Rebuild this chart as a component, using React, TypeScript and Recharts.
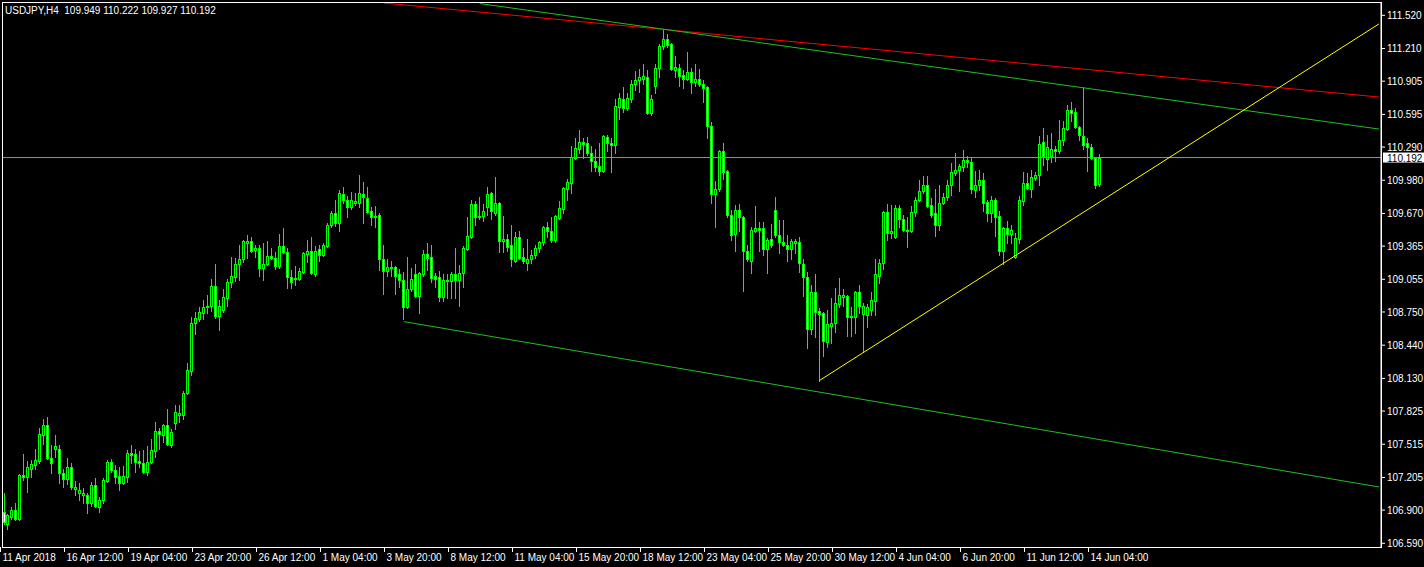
import { ComposedChart, Bar, XAxis, YAxis, ReferenceLine } from "recharts"

// USDJPY H4, bars from 11 Apr 2018 20:00 to 14 Jun 2018 12:00
const opens = [
  106.88, 106.77, 106.84, 106.90, 106.82, 107.23, 107.21, 107.28, 107.32, 107.36,
  107.60, 107.69, 107.39, 107.47, 107.47, 107.25, 107.19, 107.30, 107.10, 107.06,
  107.04, 107.04, 106.97, 107.13, 106.93, 106.99, 107.17, 107.35, 107.27, 107.22,
  107.15, 107.21, 107.43, 107.42, 107.36, 107.34, 107.26, 107.35, 107.45, 107.64,
  107.60, 107.69, 107.51, 107.71, 107.79, 107.79, 107.99, 108.20, 108.65, 108.68,
  108.74, 108.80, 108.81, 108.99, 108.71, 108.77, 108.88, 109.03, 109.08, 109.20,
  109.24, 109.39, 109.41, 109.33, 109.35, 109.16, 109.20, 109.27, 109.25, 109.18,
  109.37, 109.31, 109.08, 109.06, 109.06, 109.12, 109.29, 109.32, 109.10, 109.34,
  109.28, 109.37, 109.56, 109.67, 109.58, 109.85, 109.80, 109.73, 109.77, 109.77,
  109.85, 109.81, 109.69, 109.64, 109.66, 109.24, 109.13, 109.17, 109.17, 109.10,
  109.05, 108.80, 108.96, 109.10, 108.90, 109.10, 109.29, 109.26, 109.09, 109.08,
  108.89, 109.04, 109.04, 109.10, 109.05, 109.11, 109.34, 109.45, 109.76, 109.65,
  109.65, 109.73, 109.86, 109.67, 109.77, 109.41, 109.43, 109.38, 109.23, 109.45,
  109.26, 109.21, 109.24, 109.28, 109.35, 109.40, 109.54, 109.51, 109.42, 109.63,
  109.71, 109.90, 109.95, 110.19, 110.27, 110.34, 110.33, 110.23, 110.16, 110.11,
  110.07, 110.38, 110.33, 110.31, 110.66, 110.74, 110.65, 110.74, 110.88, 110.92,
  110.93, 110.94, 110.61, 110.86, 111.03, 111.23, 111.30, 111.25, 111.01, 111.03,
  110.96, 110.93, 110.99, 110.90, 110.93, 110.88, 110.85, 110.49, 109.85, 109.90,
  110.25, 110.07, 109.66, 109.48, 109.70, 109.64, 109.32, 109.23, 109.51, 109.53,
  109.53, 109.34, 109.43, 109.70, 109.47, 109.40, 109.38, 109.34, 109.39, 109.40,
  109.20, 109.08, 108.59, 108.94, 108.76, 108.74, 108.47, 108.62, 108.65, 108.82,
  108.89, 108.90, 108.71, 108.70, 108.94, 108.73, 108.72, 108.77, 108.85, 109.09,
  109.21, 109.68, 109.49, 109.45, 109.72, 109.62, 109.52, 109.51, 109.68, 109.80,
  109.88, 109.94, 109.75, 109.67, 109.56, 109.77, 109.82, 109.94, 110.05, 110.08,
  110.10, 110.17, 110.15, 109.89, 109.94, 109.98, 109.78, 109.67, 109.80, 109.65,
  109.32, 109.53, 109.48, 109.26, 109.43, 109.79, 109.95, 109.90, 110.00, 110.03,
  110.34, 110.18, 110.21, 110.27, 110.25, 110.36, 110.46, 110.64, 110.62, 110.48,
  110.39, 110.33, 110.29, 110.19, 109.949,
]

const highs = [
  107.06, 106.86, 106.93, 106.97, 107.24, 107.42, 107.36, 107.37, 107.47, 107.67,
  107.75, 107.77, 107.51, 107.60, 107.51, 107.28, 107.39, 107.34, 107.17, 107.15,
  107.11, 107.06, 107.16, 107.20, 107.02, 107.20, 107.37, 107.38, 107.32, 107.30,
  107.31, 107.46, 107.51, 107.47, 107.45, 107.46, 107.50, 107.56, 107.72, 107.67,
  107.70, 107.84, 107.66, 107.88, 107.88, 108.01, 108.27, 108.70, 108.75, 108.80,
  108.86, 108.91, 109.06, 109.20, 108.86, 108.96, 109.06, 109.26, 109.25, 109.38,
  109.42, 109.47, 109.45, 109.38, 109.38, 109.39, 109.41, 109.35, 109.31, 109.48,
  109.53, 109.35, 109.14, 109.18, 109.16, 109.31, 109.42, 109.45, 109.37, 109.38,
  109.39, 109.58, 109.69, 109.80, 109.89, 109.92, 109.83, 109.87, 109.86, 110.03,
  109.96, 109.92, 109.73, 109.74, 109.67, 109.38, 109.24, 109.23, 109.18, 109.15,
  109.12, 109.26, 109.16, 109.20, 109.12, 109.33, 109.39, 109.38, 109.11, 109.13,
  109.10, 109.10, 109.12, 109.35, 109.19, 109.37, 109.64, 109.80, 109.79, 109.82,
  109.76, 109.92, 109.87, 110.01, 109.78, 109.65, 109.48, 109.56, 109.50, 109.51,
  109.35, 109.43, 109.33, 109.38, 109.41, 109.55, 109.59, 109.64, 109.66, 109.79,
  109.92, 109.99, 110.30, 110.37, 110.45, 110.37, 110.38, 110.30, 110.27, 110.33,
  110.40, 110.40, 110.37, 110.74, 110.79, 110.85, 110.79, 110.92, 111.00, 111.02,
  111.07, 111.01, 110.78, 111.07, 111.25, 111.38, 111.35, 111.26, 111.14, 111.07,
  111.01, 111.18, 111.03, 111.07, 111.02, 110.92, 110.86, 110.52, 109.97, 110.26,
  110.33, 110.08, 109.70, 109.75, 109.76, 109.65, 109.38, 109.54, 109.74, 109.59,
  109.59, 109.44, 109.57, 109.82, 109.61, 109.61, 109.47, 109.43, 109.43, 109.45,
  109.24, 109.12, 109.00, 109.10, 108.79, 108.75, 108.77, 108.88, 108.97, 109.07,
  108.96, 108.91, 108.80, 108.95, 109.00, 108.83, 108.82, 108.94, 109.24, 109.24,
  109.69, 109.76, 109.75, 109.75, 109.75, 109.66, 109.64, 109.74, 109.82, 109.98,
  110.02, 110.02, 109.81, 109.90, 109.94, 109.86, 109.98, 110.14, 110.23, 110.13,
  110.26, 110.21, 110.19, 110.07, 110.08, 110.05, 109.80, 109.83, 109.81, 109.69,
  109.54, 109.60, 109.56, 109.49, 109.83, 110.06, 110.05, 110.08, 110.06, 110.39,
  110.47, 110.40, 110.42, 110.30, 110.54, 110.53, 110.68, 110.71, 110.65, 110.49,
  110.85, 110.37, 110.32, 110.20, 110.222,
]

const lows = [
  106.77, 106.72, 106.82, 106.81, 106.81, 107.18, 107.07, 107.21, 107.28, 107.34,
  107.52, 107.38, 107.25, 107.40, 107.15, 107.12, 107.14, 107.10, 107.04, 106.99,
  106.97, 106.87, 106.94, 106.93, 106.88, 106.97, 107.16, 107.26, 107.15, 107.09,
  107.14, 107.16, 107.34, 107.26, 107.30, 107.25, 107.23, 107.34, 107.40, 107.47,
  107.54, 107.51, 107.49, 107.66, 107.72, 107.75, 107.98, 108.16, 108.54, 108.67,
  108.68, 108.74, 108.76, 108.69, 108.58, 108.75, 108.81, 108.98, 109.04, 109.05,
  109.22, 109.25, 109.31, 109.26, 109.09, 109.05, 109.19, 109.24, 109.15, 109.16,
  109.30, 108.97, 108.97, 109.00, 109.05, 109.11, 109.22, 109.10, 109.09, 109.23,
  109.27, 109.36, 109.54, 109.55, 109.51, 109.77, 109.64, 109.71, 109.75, 109.73,
  109.58, 109.67, 109.56, 109.54, 109.14, 108.92, 109.09, 109.09, 108.92, 108.98,
  108.68, 108.79, 108.95, 108.89, 108.74, 109.09, 109.14, 109.03, 108.98, 108.85,
  108.85, 108.88, 108.88, 108.88, 108.81, 108.98, 109.33, 109.44, 109.56, 109.62,
  109.60, 109.66, 109.62, 109.66, 109.31, 109.31, 109.32, 109.18, 109.22, 109.24,
  109.21, 109.14, 109.21, 109.25, 109.31, 109.38, 109.45, 109.40, 109.40, 109.62,
  109.67, 109.80, 109.86, 110.18, 110.23, 110.19, 110.22, 110.07, 110.07, 110.03,
  110.06, 110.25, 110.06, 110.23, 110.55, 110.62, 110.64, 110.71, 110.82, 110.80,
  110.88, 110.60, 110.59, 110.79, 110.94, 111.21, 111.22, 111.01, 110.94, 110.86,
  110.84, 110.92, 110.79, 110.86, 110.86, 110.71, 110.37, 109.77, 109.54, 109.88,
  109.99, 109.64, 109.42, 109.32, 109.51, 108.95, 109.23, 109.11, 109.50, 109.32,
  109.28, 109.11, 109.36, 109.45, 109.30, 109.37, 109.23, 109.24, 109.30, 109.12,
  108.90, 108.41, 108.54, 108.52, 108.11, 108.34, 108.42, 108.46, 108.56, 108.80,
  108.81, 108.53, 108.53, 108.55, 108.74, 108.38, 108.61, 108.72, 108.72, 109.02,
  109.15, 109.42, 109.44, 109.44, 109.54, 109.51, 109.36, 109.50, 109.65, 109.79,
  109.86, 109.73, 109.64, 109.46, 109.52, 109.76, 109.80, 109.84, 110.03, 109.88,
  110.07, 110.10, 109.86, 109.82, 109.89, 109.69, 109.60, 109.59, 109.46, 109.28,
  109.20, 109.39, 109.39, 109.25, 109.39, 109.75, 109.90, 109.82, 109.98, 109.94,
  110.12, 110.08, 110.15, 110.16, 110.23, 110.31, 110.45, 110.53, 110.47, 110.36,
  110.27, 110.07, 110.18, 109.91, 109.927,
]

const closes = [
  106.79, 106.85, 106.90, 106.82, 107.23, 107.21, 107.30, 107.33, 107.37, 107.61,
  107.69, 107.39, 107.34, 107.50, 107.25, 107.19, 107.30, 107.12, 107.12, 107.09,
  107.06, 106.97, 107.13, 106.94, 106.99, 107.18, 107.35, 107.27, 107.21, 107.15,
  107.22, 107.43, 107.41, 107.35, 107.34, 107.26, 107.35, 107.46, 107.64, 107.61,
  107.69, 107.52, 107.63, 107.82, 107.81, 107.99, 108.21, 108.65, 108.69, 108.75,
  108.80, 108.81, 108.99, 108.71, 108.81, 108.89, 109.03, 109.09, 109.20, 109.24,
  109.41, 109.41, 109.32, 109.35, 109.16, 109.20, 109.27, 109.25, 109.18, 109.37,
  109.31, 109.08, 109.03, 109.07, 109.13, 109.30, 109.32, 109.11, 109.32, 109.28,
  109.38, 109.56, 109.67, 109.58, 109.86, 109.80, 109.73, 109.80, 109.79, 109.86,
  109.82, 109.68, 109.64, 109.65, 109.24, 109.13, 109.17, 109.16, 109.09, 109.05,
  108.80, 108.96, 109.06, 108.90, 109.11, 109.29, 109.25, 109.07, 109.06, 108.89,
  109.05, 109.05, 109.10, 109.05, 109.11, 109.35, 109.46, 109.76, 109.64, 109.64,
  109.69, 109.85, 109.69, 109.77, 109.41, 109.43, 109.36, 109.24, 109.45, 109.25,
  109.23, 109.24, 109.28, 109.35, 109.40, 109.54, 109.51, 109.42, 109.65, 109.72,
  109.91, 109.96, 110.20, 110.28, 110.34, 110.32, 110.23, 110.16, 110.10, 110.07,
  110.39, 110.33, 110.31, 110.67, 110.75, 110.65, 110.75, 110.88, 110.92, 110.94,
  110.95, 110.61, 110.74, 111.03, 111.23, 111.30, 111.24, 111.02, 111.04, 110.95,
  110.93, 110.99, 110.90, 110.93, 110.88, 110.84, 110.49, 109.85, 109.90, 110.25,
  110.06, 109.66, 109.47, 109.70, 109.64, 109.32, 109.24, 109.52, 109.53, 109.52,
  109.34, 109.42, 109.38, 109.47, 109.40, 109.38, 109.34, 109.41, 109.41, 109.21,
  109.08, 108.59, 108.94, 108.75, 108.73, 108.48, 108.64, 108.65, 108.83, 108.91,
  108.91, 108.70, 108.70, 108.94, 108.81, 108.81, 108.80, 108.86, 109.10, 109.21,
  109.68, 109.49, 109.51, 109.72, 109.62, 109.52, 109.51, 109.68, 109.80, 109.88,
  109.94, 109.74, 109.66, 109.56, 109.77, 109.82, 109.94, 110.06, 110.08, 110.11,
  110.17, 110.15, 109.90, 109.94, 109.98, 109.77, 109.67, 109.80, 109.64, 109.32,
  109.53, 109.48, 109.52, 109.44, 109.80, 109.95, 109.91, 110.01, 110.03, 110.32,
  110.21, 110.29, 110.27, 110.25, 110.36, 110.47, 110.64, 110.61, 110.48, 110.40,
  110.31, 110.29, 110.19, 109.94, 110.192,
]

// time labels every 16 bars
const timeLabels = [
  "11 Apr 2018", "16 Apr 12:00", "19 Apr 04:00", "23 Apr 20:00", "26 Apr 12:00",
  "1 May 04:00", "3 May 20:00", "8 May 12:00", "11 May 04:00", "15 May 20:00",
  "18 May 12:00", "23 May 04:00", "25 May 20:00", "30 May 12:00", "4 Jun 04:00",
  "6 Jun 20:00", "11 Jun 12:00", "14 Jun 04:00",
]

const priceTicks = [
  111.52, 111.21, 110.905, 110.595, 110.29, 109.98, 109.67, 109.365, 109.055,
  108.75, 108.44, 108.13, 107.825, 107.515, 107.205, 106.9, 106.59,
]

const bidPrice = 110.192

// trend lines: [startBar, startPrice, endBar, endPrice]
const trendRed = [95, 111.635, 344, 110.757]
const trendGreenTop = [119, 111.63, 344, 110.458]
const trendGreenLow = [100, 108.66, 344, 107.116]
const trendYellow = [204, 108.11, 344, 111.44]

const SLOTS = 345
const LIME = "#00ff00"
const FONT = "Liberation Sans, Arial, sans-serif"

const data = Array.from({ length: SLOTS }, (_, i) =>
  i < opens.length
    ? { i, range: [lows[i], highs[i]], o: opens[i], h: highs[i], l: lows[i], c: closes[i] }
    : { i }
)

function Candle(props: any) {
  const { x, y, width, height, payload } = props
  if (!payload || payload.o == null) return null
  const top = Math.min(y, y + height)
  const h = Math.abs(height)
  const span = payload.h - payload.l
  const py = (v: number) => (span > 0 ? top + ((payload.h - v) / span) * h : top)
  const cx = Math.floor(x + width / 2)
  const yo = py(payload.o)
  const yc = py(payload.c)
  const bTop = Math.round(Math.min(yo, yc))
  const bBot = Math.round(Math.max(yo, yc))
  const bull = payload.c >= payload.o
  return (
    <g shapeRendering="crispEdges">
      <line x1={cx + 0.5} x2={cx + 0.5} y1={Math.round(top)} y2={Math.round(top + h) + 1} stroke={LIME} />
      <rect
        x={cx - 0.5}
        y={bTop + 0.5}
        width={2}
        height={Math.max(bBot - bTop, 0)}
        fill={bull ? "#000000" : "#ffffff"}
        stroke={LIME}
      />
    </g>
  )
}

function TimeTick(props: any) {
  const { x, y, payload } = props
  const label = timeLabels[Math.round(payload.value / 16)]
  const px = Math.floor(x) - 2.5
  return (
    <g>
      <line x1={px} x2={px} y1={y} y2={y + 5} stroke="#ffffff" shapeRendering="crispEdges" />
      <text x={px + 2} y={y + 14} fill="#ffffff" fontSize={10} fontFamily={FONT} textAnchor="start">
        {label}
      </text>
    </g>
  )
}

function BidLabel(props: any) {
  const vb = props.viewBox
  if (!vb) return null
  const x = vb.x + vb.width + 2
  const yy = vb.y
  return (
    <g>
      <rect x={x} y={yy - 5} width={41} height={10} fill="#ffffff" />
      <text x={x + 4} y={yy + 4} fill="#000000" fontSize={10} fontFamily={FONT}>
        {bidPrice.toFixed(3)}
      </text>
    </g>
  )
}

function seg(t: number[]) {
  return [
    { x: t[0], y: t[1] },
    { x: t[2], y: t[3] },
  ] as any
}

export default function App() {
  return (
    <div style={{ position: "fixed", left: 0, top: 0, width: 1424, height: 567, background: "#000000" }}>
      <ComposedChart
        width={1424}
        height={567}
        data={data}
        margin={{ top: 3, right: 0, bottom: 0, left: 2 }}
        barCategoryGap={0}
      >
        <XAxis
          dataKey="i"
          type="category"
          ticks={timeLabels.map((_, k) => k * 16)}
          interval={0}
          height={20}
          axisLine={false}
          tickLine={false}
          tickSize={0}
          tickMargin={0}
          tick={<TimeTick />}
        />
        <YAxis
          orientation="right"
          width={43}
          domain={[106.5555, 111.635]}
          allowDataOverflow
          ticks={priceTicks}
          interval={0}
          axisLine={{ stroke: "#ffffff" }}
          tickLine={{ stroke: "#ffffff" }}
          tickSize={4}
          tickMargin={2}
          tick={{ fill: "#ffffff", fontSize: 10, fontFamily: FONT }}
          tickFormatter={(v: number) => v.toFixed(3)}
        />
        <ReferenceLine y={bidPrice} stroke="#8494a8" label={<BidLabel />} />
        <ReferenceLine segment={seg(trendRed)} stroke="#ff0000" ifOverflow="hidden" />
        <ReferenceLine segment={seg(trendGreenTop)} stroke="#1fbf1f" ifOverflow="hidden" />
        <ReferenceLine segment={seg(trendGreenLow)} stroke="#1fbf1f" ifOverflow="hidden" />
        <ReferenceLine segment={seg(trendYellow)} stroke="#ffff00" ifOverflow="hidden" />
        <Bar dataKey="range" shape={<Candle />} isAnimationActive={false} />
      </ComposedChart>
      <div
        style={{
          position: "absolute",
          left: 2,
          top: 2,
          width: 1380,
          height: 546,
          border: "1px solid #ffffff",
          boxSizing: "border-box",
          pointerEvents: "none",
        }}
      />
      <div
        style={{
          position: "absolute",
          left: 5,
          top: 5,
          color: "#ffffff",
          fontSize: 10,
          fontFamily: FONT,
          whiteSpace: "pre",
          lineHeight: "12px",
        }}
      >
        {"USDJPY,H4  109.949 110.222 109.927 110.192"}
      </div>
    </div>
  )
}
